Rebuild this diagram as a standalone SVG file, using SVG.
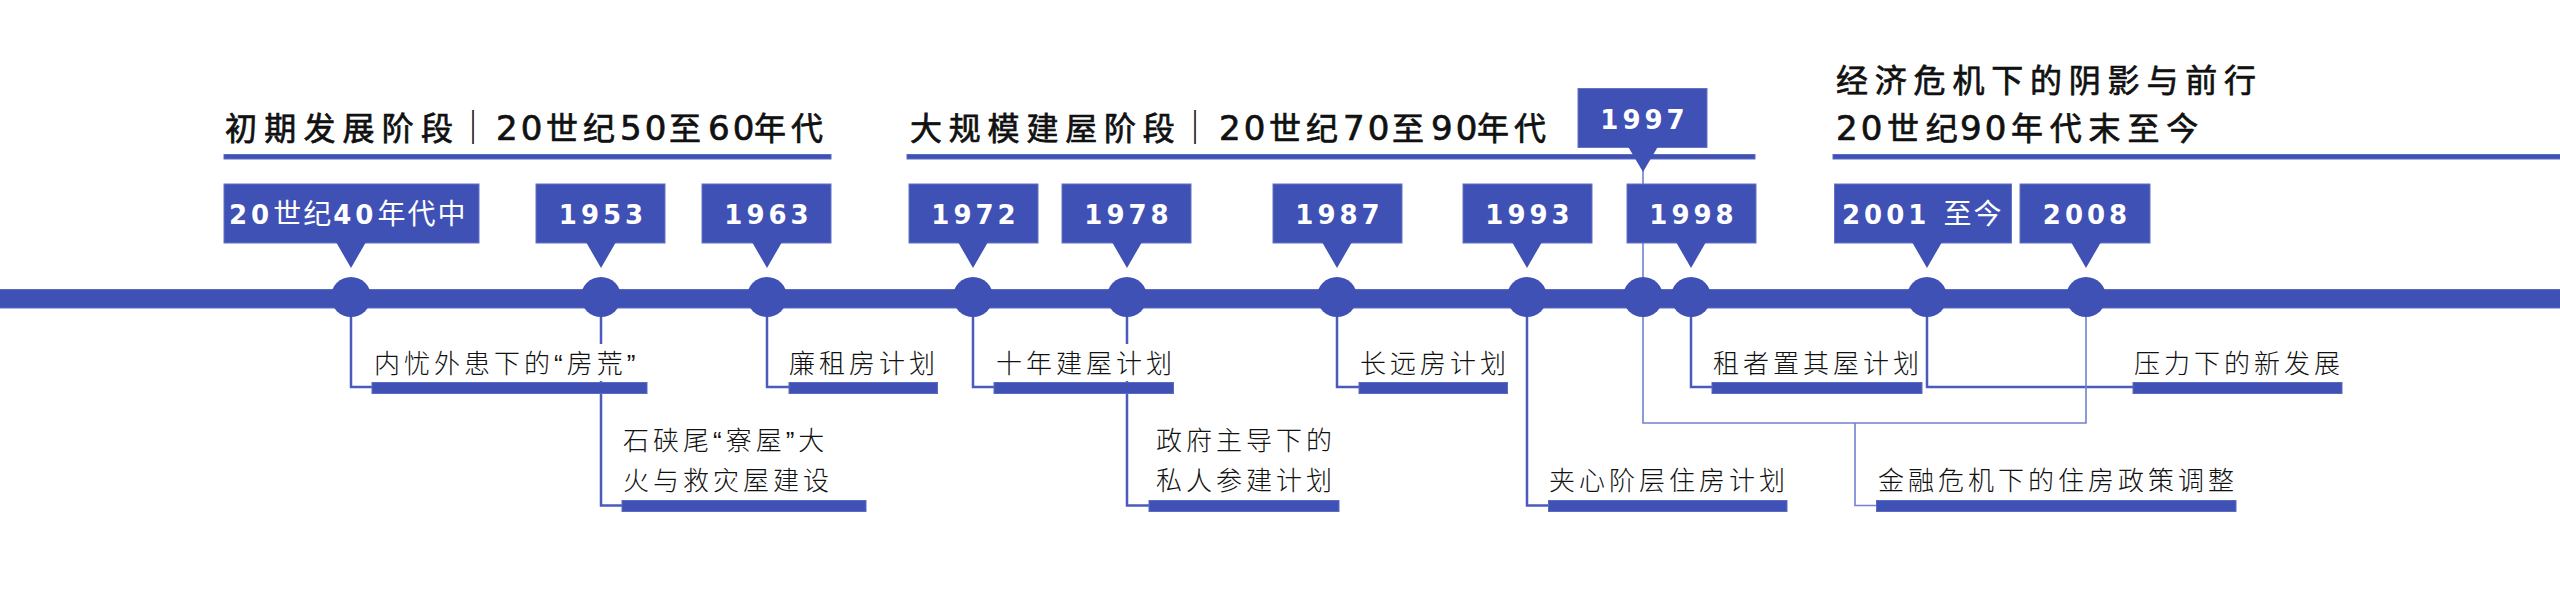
<svg xmlns="http://www.w3.org/2000/svg" width="2560" height="600" viewBox="0 0 2560 600">
<style>
.title{font-family:"Liberation Sans","Noto Sans CJK SC",sans-serif;font-size:32px;font-weight:400;fill:#111;stroke:#111;stroke-width:0.7px;letter-spacing:6.8px}
.d{font-family:"DejaVu Sans",sans-serif;font-size:34px;letter-spacing:3px}
.c{letter-spacing:5px}
.sep{font-family:"Noto Sans CJK SC",sans-serif;font-size:34px;font-weight:700;fill:#111}
.uline{fill:#3f51b5;stroke:#5c6bc0;stroke-width:1}
.box{fill:#3f51b5;stroke:#6373c6;stroke-width:1}
.ptr{fill:#3f51b5}
.dot{fill:#3f51b5}
.yr{font-family:"DejaVu Sans","Noto Sans CJK SC",sans-serif;font-weight:bold;font-size:26px;fill:#fff;letter-spacing:4px}
.yc{font-family:"Noto Sans CJK SC",sans-serif;font-weight:400;font-size:28px;letter-spacing:2px}
.lbl{font-family:"Liberation Sans","Noto Sans CJK SC",sans-serif;font-size:26px;font-weight:300;fill:#111;letter-spacing:4px}
.bg{fill:#fff}
.bar{fill:#3f51b5;stroke:#5c6bc0;stroke-width:1}
.con{fill:none;stroke:#4a5bbd;stroke-width:2.5}
.thin{fill:none;stroke:#7080d2;stroke-width:1.6}
</style>

<g id="phase-titles">
  <text class="title" x="225" y="140" style="letter-spacing:7.2px">初期发展阶段</text>
  <text class="sep" x="473" y="140" text-anchor="middle">｜</text>
  <text class="title" y="140"><tspan class="d" x="496">20</tspan><tspan class="c" x="546">世纪</tspan><tspan class="d" x="620">50</tspan><tspan class="c" x="669">至</tspan><tspan class="d" x="708">60</tspan><tspan class="c" x="754">年代</tspan></text>
  <rect class="uline" x="224" y="154.5" width="607" height="4.5"/>
  <text class="title" x="910" y="140">大规模建屋阶段</text>
  <text class="sep" x="1195" y="140" text-anchor="middle">｜</text>
  <text class="title" y="140"><tspan class="d" x="1219">20</tspan><tspan class="c" x="1269">世纪</tspan><tspan class="d" x="1343">70</tspan><tspan class="c" x="1392">至</tspan><tspan class="d" x="1431">90</tspan><tspan class="c" x="1477">年代</tspan></text>
  <rect class="uline" x="907" y="154.5" width="848" height="4.5"/>
  <text class="title" x="1836" y="91.5">经济危机下的阴影与前行</text>
  <text class="title" y="140"><tspan class="d" x="1836">20</tspan><tspan x="1887">世纪</tspan><tspan class="d" x="1960">90</tspan><tspan x="2011">年代末至今</tspan></text>
  <rect class="uline" x="1833" y="154.5" width="730" height="4.5"/>
</g>

<rect id="timeline" x="-2" y="289.5" width="2566" height="18.5" fill="#3f51b5" stroke="#5c6bc0" stroke-width="1"/>

<g id="connectors">
  <polyline class="con" points="351,297 351,387 374,387"/>
  <polyline class="con" points="601,297 601,505.5 624,505.5"/>
  <polyline class="con" points="767,297 767,387 790,387"/>
  <polyline class="con" points="973,297 973,387 995,387"/>
  <polyline class="con" points="1127,297 1127,505.5 1150,505.5"/>
  <polyline class="con" points="1337,297 1337,387 1360,387"/>
  <polyline class="con" points="1527,297 1527,505.5 1549,505.5"/>
  <polyline class="con" points="1691,297 1691,387 1713,387"/>
  <polyline class="con" points="1927,297 1927,387 2134,387"/>
  <polyline class="thin" points="1643,170 1643,423 2086,423 2086,297"/>
  <polyline class="thin" points="1855,423 1855,505.5 1878,505.5"/>
</g>

<g id="n1940s">
  <rect class="box" x="224" y="184" width="255" height="59"/>
  <polygon class="ptr" points="336,242 366,242 351,268"/>
  <circle class="dot" cx="351" cy="297" r="20"/>
  <text class="yr" x="229" y="224">20<tspan class="yc">世纪</tspan>40<tspan class="yc">年代中</tspan></text>
  <rect class="bg" x="371" y="344" width="278" height="37"/>
  <text class="lbl" x="374" y="373">内忧外患下的“房荒”</text>
  <rect class="bar" x="372" y="382.5" width="275" height="11"/>
</g>

<g id="n1953">
  <rect class="box" x="536" y="184" width="129" height="59"/>
  <polygon class="ptr" points="586,242 616,242 601,268"/>
  <circle class="dot" cx="601" cy="297" r="20"/>
  <text class="yr" x="603" y="224" text-anchor="middle">1953</text>
  <text class="lbl" x="623" y="450">石硖尾“寮屋”大</text>
  <text class="lbl" x="623" y="490">火与救灾屋建设</text>
  <rect class="bar" x="622" y="500.5" width="244" height="11"/>
</g>

<g id="n1963">
  <rect class="box" x="702" y="184" width="129" height="59"/>
  <polygon class="ptr" points="752,242 782,242 767,268"/>
  <circle class="dot" cx="767" cy="297" r="20"/>
  <text class="yr" x="768.5" y="224" text-anchor="middle">1963</text>
  <rect class="bg" x="787" y="344" width="152" height="37"/>
  <text class="lbl" x="789" y="373">廉租房计划</text>
  <rect class="bar" x="789" y="382.5" width="148.5" height="11"/>
</g>

<g id="n1972">
  <rect class="box" x="909" y="184" width="129" height="59"/>
  <polygon class="ptr" points="958,242 988,242 973,268"/>
  <circle class="dot" cx="973" cy="297" r="20"/>
  <text class="yr" x="975.5" y="224" text-anchor="middle">1972</text>
  <rect class="bg" x="993" y="344" width="182" height="37"/>
  <text class="lbl" x="996" y="373">十年建屋计划</text>
  <rect class="bar" x="994" y="382.5" width="179.5" height="11"/>
</g>

<g id="n1978">
  <rect class="box" x="1062" y="184" width="129" height="59"/>
  <polygon class="ptr" points="1112,242 1142,242 1127,268"/>
  <circle class="dot" cx="1127" cy="297" r="20"/>
  <text class="yr" x="1128.5" y="224" text-anchor="middle">1978</text>
  <text class="lbl" x="1156" y="450">政府主导下的</text>
  <text class="lbl" x="1156" y="490">私人参建计划</text>
  <rect class="bar" x="1149" y="500.5" width="190" height="11"/>
</g>

<g id="n1987">
  <rect class="box" x="1273" y="184" width="129" height="59"/>
  <polygon class="ptr" points="1322,242 1352,242 1337,268"/>
  <circle class="dot" cx="1337" cy="297" r="20"/>
  <text class="yr" x="1339.5" y="224" text-anchor="middle">1987</text>
  <rect class="bg" x="1357" y="344" width="152" height="37"/>
  <text class="lbl" x="1360" y="373">长远房计划</text>
  <rect class="bar" x="1359" y="382.5" width="148.5" height="11"/>
</g>

<g id="n1993">
  <rect class="box" x="1463" y="184" width="129" height="59"/>
  <polygon class="ptr" points="1512,242 1542,242 1527,268"/>
  <circle class="dot" cx="1527" cy="297" r="20"/>
  <text class="yr" x="1529.5" y="224" text-anchor="middle">1993</text>
  <text class="lbl" x="1549" y="490">夹心阶层住房计划</text>
  <rect class="bar" x="1548.5" y="500.5" width="238.5" height="11"/>
</g>

<g id="n1997">
  <rect class="box" x="1578" y="88.5" width="129" height="59"/>
  <polygon class="ptr" points="1628,146.5 1658,146.5 1643,172"/>
  <circle class="dot" cx="1643" cy="297" r="20"/>
  <text class="yr" x="1644.5" y="128.5" text-anchor="middle">1997</text>
</g>

<g id="n1998">
  <rect class="box" x="1627" y="184" width="129" height="59"/>
  <polygon class="ptr" points="1676,242 1706,242 1691,268"/>
  <circle class="dot" cx="1691" cy="297" r="20"/>
  <text class="yr" x="1693.5" y="224" text-anchor="middle">1998</text>
  <rect class="bg" x="1710" y="344" width="214" height="37"/>
  <text class="lbl" x="1713" y="373">租者置其屋计划</text>
  <rect class="bar" x="1712" y="382.5" width="210" height="11"/>
</g>

<g id="n2001">
  <rect class="box" x="1834.5" y="184" width="177" height="59"/>
  <polygon class="ptr" points="1912,242 1942,242 1927,268"/>
  <circle class="dot" cx="1927" cy="297" r="20"/>
  <text class="yr" x="1842" y="224">2001 <tspan class="yc">至今</tspan></text>
  <rect class="bg" x="2131" y="344" width="213" height="37"/>
  <text class="lbl" x="2134" y="373">压力下的新发展</text>
  <rect class="bar" x="2133" y="382.5" width="209" height="11"/>
</g>

<g id="n2008">
  <rect class="box" x="2020" y="184" width="130" height="59"/>
  <polygon class="ptr" points="2071,242 2101,242 2086,268"/>
  <circle class="dot" cx="2086" cy="297" r="20"/>
  <text class="yr" x="2087" y="224" text-anchor="middle">2008</text>
  <text class="lbl" x="1878" y="490">金融危机下的住房政策调整</text>
  <rect class="bar" x="1876.5" y="500.5" width="359.5" height="11"/>
</g>
</svg>
